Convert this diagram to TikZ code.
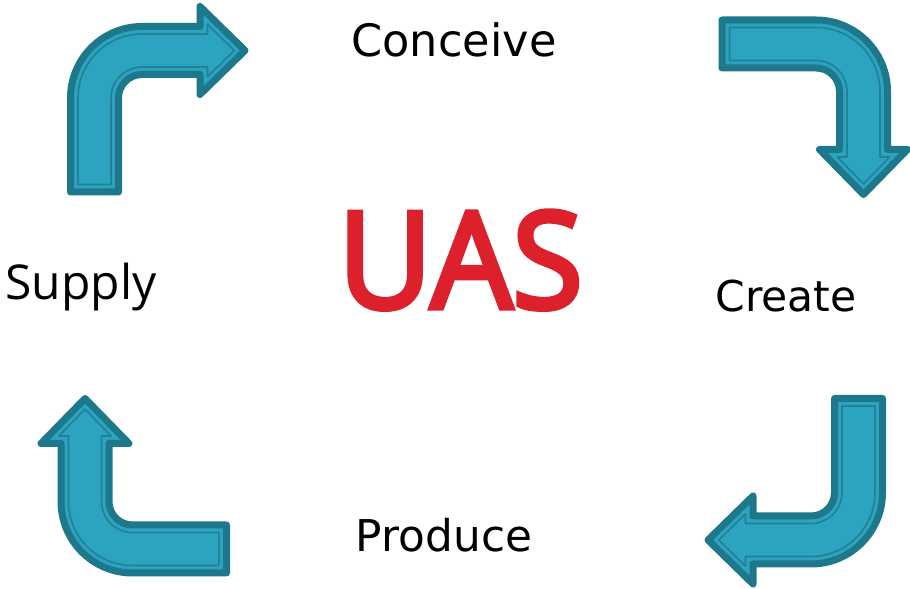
\documentclass[tikz,border=0pt]{standalone}
\usepackage{fontspec}
\setmainfont{DejaVu Sans}
\newfontfamily\opensans{Open Sans}
\newfontfamily\opensanssemi{Open Sans}[FakeBold=4]
\definecolor{arrowfill}{RGB}{44,163,191}
\definecolor{arrowdark}{RGB}{30,120,140}
\definecolor{uasred}{RGB}{220,32,44}
\newcommand\bentarrow[2]{%
  \pgfmathsetmacro\bhw{24-#1}%
  \pgfmathsetmacro\btail{-141.5+#1}%
  \pgfmathsetmacro\bbase{105.5+#1}%
  \pgfmathsetmacro\bhead{44-2.377*#1}%
  \pgfmathsetmacro\btip{150.5-1.43*#1}%
  \pgfmathsetmacro\bro{47.5+\bhw}%
  \pgfmathsetmacro\bri{47.5-\bhw}%
  \draw[#2] (-\bhw,\btail) -- (-\bhw,-47.5)
    arc[start angle=180,end angle=90,radius=\bro]
    -- (\bbase,\bhw) -- (\bbase,\bhead) -- (\btip,0) -- (\bbase,-\bhead)
    -- (\bbase,-\bhw) -- (47.5,-\bhw)
    arc[start angle=90,end angle=180,radius=\bri]
    -- (\bhw,\btail) -- cycle;%
}
\newcommand\fullarrow{%
  \bentarrow{0}{arrowbody}%
  \bentarrow{7.5}{arrowinner}%
}
\tikzset{
  arrowbody/.style={fill=arrowfill, draw=arrowdark, line width=7bp, line join=round},
  arrowinner/.style={draw=arrowdark!80!arrowfill, line width=1.6bp, line join=round},
  label/.style={anchor=base, inner sep=0pt, text=black},
}
\begin{document}
\begin{tikzpicture}[x=1bp,y=1bp]
\useasboundingbox (0,0) rectangle (910,589);
\fill[white] (0,0) rectangle (910,589);
\begin{scope}[shift={(94.5,538.5)}]\fullarrow\end{scope}
\begin{scope}[shift={(863.5,545)},rotate=-90]\fullarrow\end{scope}
\begin{scope}[shift={(858.5,49)},rotate=180]\fullarrow\end{scope}
\begin{scope}[shift={(85,40)},rotate=90]\fullarrow\end{scope}
\node[label, font=\fontsize{44.6bp}{50bp}\selectfont] (conceive) at (454,532) {Conceive};
\node[label, font=\fontsize{42.5bp}{48bp}\selectfont] (create) at (786,277) {Create};
\node[label, font=\fontsize{43.8bp}{49bp}\selectfont] (produce) at (444,37) {Produce};
\node[label, font=\opensans\fontsize{48bp}{54bp}\selectfont] (supply) at (81,289) {Supply};
\node[label, text=uasred, font=\opensanssemi\fontsize{134bp}{150bp}\selectfont, xscale=0.96] (uas) at (460.5,281) {UAS};
\end{tikzpicture}
\end{document}
